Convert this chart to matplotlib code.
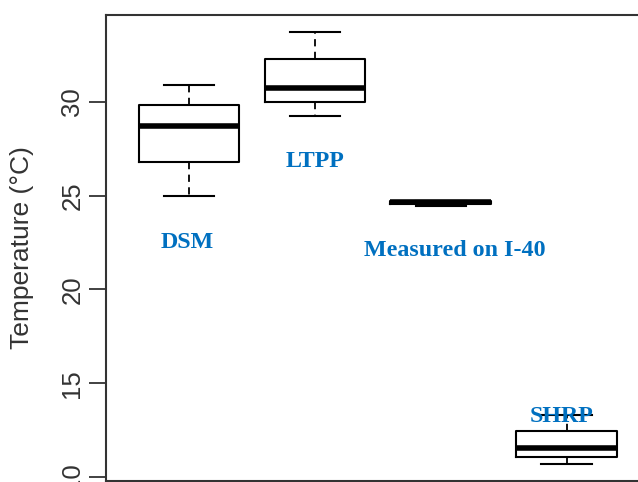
import matplotlib
matplotlib.use("Agg")
import matplotlib.pyplot as plt

# --- data ---
groups = ["DSM", "LTPP", "Measured on I-40", "SHRP"]
whisker_low = [25.0, 29.27, 24.45, 10.7]
q1 = [26.82, 30.02, 24.56, 11.08]
medians = [28.74, 30.73, 24.64, 11.56]
q3 = [29.82, 32.29, 24.74, 12.44]
whisker_high = [30.91, 33.74, 24.74, 13.3]

label_x = [0.99, 2.0, 3.11, 3.96]
label_y = [22.5, 26.85, 22.1, 13.2]

y_ticks = [10, 15, 20, 25, 30]

stats = []
for i in range(len(groups)):
    stats.append({
        "label": groups[i],
        "whislo": whisker_low[i],
        "q1": q1[i],
        "med": medians[i],
        "q3": q3[i],
        "whishi": whisker_high[i],
        "fliers": [],
    })

fig = plt.figure(figsize=(6.38, 4.82), dpi=100)
ax = fig.add_axes([0.1661, 0.002, 0.852, 0.9669])

ax.bxp(
    stats,
    positions=[1, 2, 3, 4],
    widths=0.8,
    showfliers=False,
    boxprops=dict(color="black", linewidth=1.5),
    medianprops=dict(color="black", linewidth=4.0, solid_capstyle="butt"),
    whiskerprops=dict(color="black", linewidth=1.3, linestyle=(0, (4, 3))),
    capprops=dict(color="black", linewidth=1.5),
    capwidths=0.4,
)

for name, lx, ly in zip(groups, label_x, label_y):
    ax.text(lx, ly, name, ha="center", va="center", color="#0070C0",
            fontsize=17.3, fontweight="bold", family="Liberation Serif")

ax.set_xlim(0.34, 4.66)
ax.set_ylim(9.78, 34.64)
ax.set_xticks([])
ax.set_yticks(y_ticks)
ax.set_yticklabels([str(t) for t in y_ticks], rotation=90, va="center",
                   fontsize=18.5, color="#333333", family="Liberation Sans")
ax.tick_params(axis="y", length=12, width=1.3, color="#333333", pad=3.6)
ax.set_ylabel("Temperature (\u00b0C)", fontsize=19, color="#333333",
              family="Liberation Sans", va="center")
ax.yaxis.set_label_coords(-0.1545, 0.502)

for side in ["left", "top", "bottom"]:
    ax.spines[side].set_color("#333333")
    ax.spines[side].set_linewidth(1.5)
ax.spines["right"].set_visible(False)

fig.savefig("out.png", dpi=100)
